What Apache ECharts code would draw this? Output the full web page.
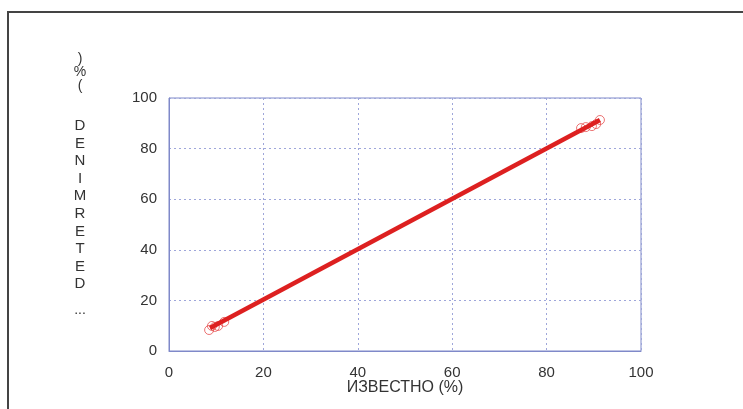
<!DOCTYPE html>
<html>
<head>
<meta charset="utf-8">
<script src="https://cdn.jsdelivr.net/npm/echarts@6/dist/echarts.min.js"></script>
<style>
  html, body { margin: 0; padding: 0; background: #fff; }
  #chart { width: 743px; height: 409px; }
</style>
</head>
<body>
<div id="chart"></div>
<script>
// data
const xTicks = [0, 20, 40, 60, 80, 100];
const fitLine = [[8.7, 9.1], [91.3, 91.3]];
const pointsLow = [[8.5, 8.3], [9.1, 9.9], [9.7, 9.5], [10.4, 9.9], [11.7, 11.5]];
const pointsHigh = [[87.3, 88.1], [88.3, 88.5], [89.6, 88.9], [90.5, 89.7], [91.3, 91.3]];
const xName = 'ИЗВЕСТНО (%)';
const yNameTop = [')', '%', '('];
const yNameLetters = ['D', 'E', 'N', 'I', 'M', 'R', 'E', 'T', 'E', 'D'];

const FONT = '"Liberation Sans", Arial, sans-serif',
  TEXT = '#333',
  RED = '#dd2020',
  AXIS = '#7f89c9',
  GRID = { lineStyle: { color: '#9ea6da', type: [2, 3], width: 1 } };

const chart = echarts.init(document.getElementById('chart'));

function axis(extra) {
  return Object.assign({
    type: 'value', min: xTicks[0], max: xTicks[xTicks.length - 1], interval: 20,
    axisLine: { show: true, lineStyle: { color: AXIS, width: 1 } },
    axisTick: { show: false },
    splitLine: Object.assign({ show: true }, GRID),
    axisLabel: { color: TEXT, fontSize: 15, fontFamily: FONT }
  }, extra);
}

chart.setOption({
  animation: false,
  grid: { left: 169, right: 102, top: 98, bottom: 58, show: true, borderColor: AXIS, borderWidth: 1 },
  xAxis: axis({
    name: xName, nameLocation: 'middle', nameGap: 29, nameMoveOverlap: false,
    nameTextStyle: { color: TEXT, fontSize: 16, fontFamily: FONT },
    axisLabel: { color: TEXT, fontSize: 15, fontFamily: FONT, margin: 14 }
  }),
  yAxis: axis({
    axisLabel: { color: TEXT, fontSize: 15, fontFamily: FONT, margin: 12 }
  }),
  graphic: [
    { type: 'rect', shape: { x: 8, y: 12, width: 800, height: 500 },
      style: { fill: 'none', stroke: '#444', lineWidth: 2 }, silent: true },
    { type: 'text', x: 80, y: 52,
      style: { text: yNameTop.join('\n'), fill: TEXT, font: '14px ' + FONT, align: 'center', lineHeight: 13.5 } },
    { type: 'text', x: 80, y: 117,
      style: { text: yNameLetters.join('\n'), fill: TEXT, font: '15px ' + FONT, align: 'center', lineHeight: 17.6 } },
    { type: 'text', x: 80, y: 303,
      style: { text: '...', fill: TEXT, font: '14px ' + FONT, align: 'center' } }
  ],
  series: [
    { type: 'line', data: fitLine, symbol: 'none', lineStyle: { color: RED, width: 4.5 }, z: 3 },
    { type: 'scatter', data: pointsLow.concat(pointsHigh), symbol: 'circle', symbolSize: 9,
      itemStyle: { color: 'rgba(0,0,0,0)', borderColor: '#e65050', borderWidth: 1 }, z: 2 }
  ]
});
</script>
</body>
</html>
